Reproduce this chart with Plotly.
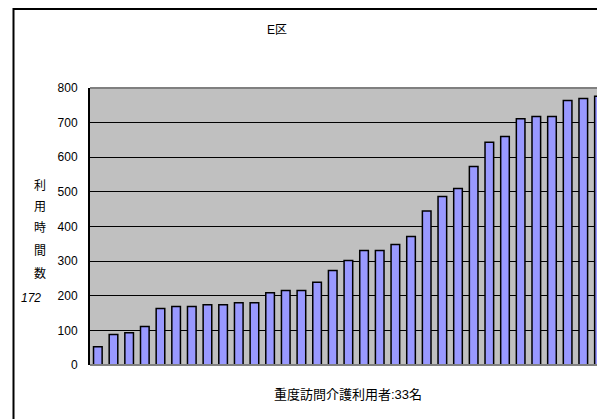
import plotly.graph_objects as go

users = list(range(1, 34))
hours = [53, 88, 93, 111, 163, 169, 169, 174, 174, 180, 180, 209, 215, 215, 239, 273,
         302, 331, 331, 348, 371, 445, 487, 510, 573, 643, 660, 711, 718, 718, 764, 770, 776]
y_ticks = [0, 100, 200, 300, 400, 500, 600, 700, 800]
title_text = "E区"
x_title = "重度訪問介護利用者:33名"
y_title_chars = ["利", "用", "時", "間", "数"]
avg_label = "172"

FONT = "Liberation Sans, Arial, Noto Sans CJK JP, sans-serif"
OFF = 8  # page body margin
W, H = 605, 419
# page coordinates of the plot area
PL, PT, PB, PR = 90, 88, 365, 613
L, T = PL - OFF, PT - OFF
B = H - (PB - OFF)
R = W - (PR - OFF)
pw, ph = PR - PL, PB - PT

def px(x):
    return (x - PL) / pw

def py(y):
    return (PB - y) / ph

fig = go.Figure(go.Bar(
    x=users, y=hours,
    marker=dict(color="#9999FF", line=dict(color="black", width=1.5)),
))

def ann(text, x, y, size=12):
    return dict(text=text, x=px(x), y=py(y), xref="paper", yref="paper",
                xanchor="center", yanchor="middle", showarrow=False,
                font=dict(size=size, color="black", family=FONT))

annotations = [
    ann(title_text, 277, 30),
    ann(x_title, 348, 394, 13),
    ann("<i>" + avg_label + "</i>", 31, 298),
]
for ch, ys in zip(y_title_chars, [186, 207, 228, 251, 273]):
    annotations.append(ann(ch, 40, ys))

shapes = [
    # outer frame
    dict(type="line", xref="paper", yref="paper", x0=px(13.5), x1=px(700), y0=py(9), y1=py(9),
         line=dict(color="black", width=2)),
    dict(type="line", xref="paper", yref="paper", x0=px(13.5), x1=px(13.5), y0=py(8), y1=py(500),
         line=dict(color="black", width=2)),
    # plot area top and bottom borders
    dict(type="line", xref="paper", yref="paper", x0=0, x1=1, y0=1, y1=1,
         line=dict(color="#808080", width=2)),
    dict(type="line", xref="paper", yref="paper", x0=0, x1=1, y0=0, y1=0,
         line=dict(color="#808080", width=2)),
]

fig.update_layout(
    width=W, height=H,
    margin=dict(l=L, r=max(R, 0), t=T, b=B, pad=0),
    paper_bgcolor="white", plot_bgcolor="#C0C0C0",
    showlegend=False, bargap=0.45,
    font=dict(family=FONT, size=12, color="black"),
    annotations=annotations, shapes=shapes,
    xaxis=dict(range=[0.5, 0.5 + pw / 15.66], showticklabels=False, showgrid=False, zeroline=False,
               ticks="", showline=False, fixedrange=True),
    yaxis=dict(range=[0, 800], tickvals=y_ticks, showgrid=True, gridcolor="black", gridwidth=1,
               zeroline=False, showline=True, linecolor="black", linewidth=2,
               ticks="", ticklabelstandoff=8, tickfont=dict(size=12, family=FONT),
               fixedrange=True),
)

fig.write_html("out.html", config={"displayModeBar": False})
